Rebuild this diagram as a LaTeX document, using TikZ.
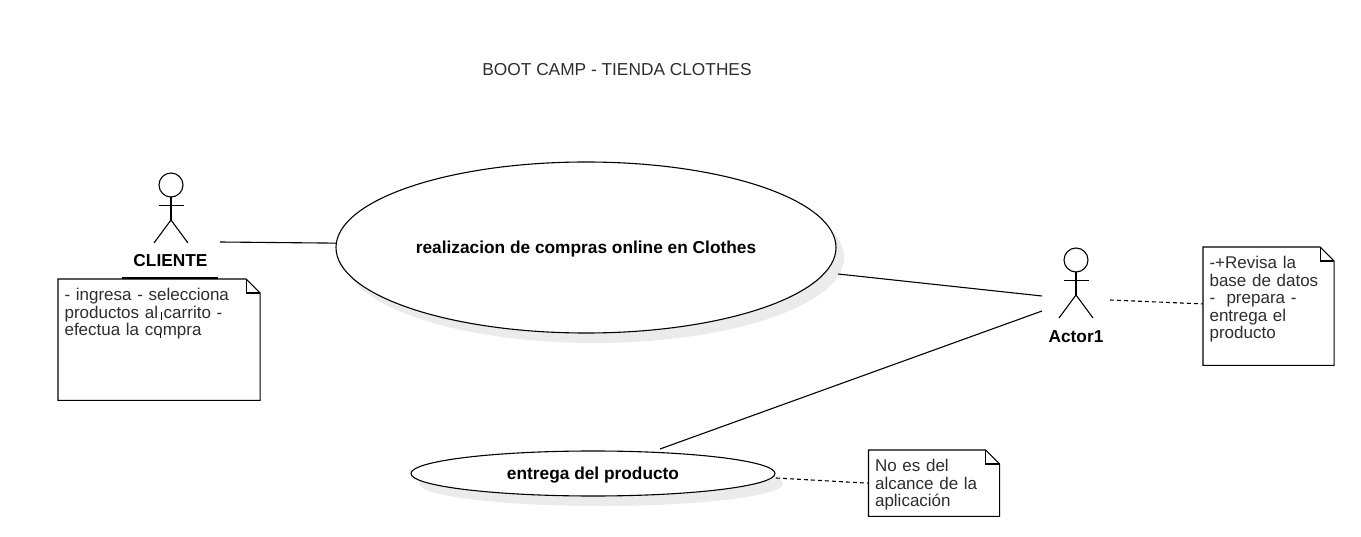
\documentclass[tikz,border=0pt]{standalone}
\usepackage{fontspec}
\setmainfont{Liberation Sans}
\usetikzlibrary{positioning,shapes.geometric,shadows}
\definecolor{notetext}{RGB}{45,45,45}
\definecolor{shadowgray}{RGB}{235,235,235}

\begin{document}
\begin{tikzpicture}[
    x=1pt, y=-1pt,
    line width=1.1pt,
    usecase/.style={ellipse, draw=black, fill=white, inner sep=0pt, text height=16pt, text depth=3.5pt,
        font=\fontsize{17.3}{19}\selectfont\bfseries,
        drop shadow={shadow xshift=8pt, shadow yshift=-10pt, opacity=1, fill=shadowgray}},
    notebox/.style n args={2}{rectangle, anchor=north west, align=left, inner xsep=6pt, inner ysep=9pt,
        text width=#1, text depth=#2, font=\fontsize{17}{17.5}\selectfont, text=notetext},
    actorname/.style={font=\fontsize{17.3}{19}\selectfont\bfseries},
    assoc/.style={line width=1.1pt},
    notelink/.style={line width=1.1pt, dash pattern=on 4pt off 3pt}
]
\useasboundingbox (0,0) rectangle (1361,537);

% Title
\node[font=\fontsize{17.3}{19}\selectfont, text=notetext] (title) at (617,70) {BOOT CAMP - TIENDA CLOTHES};

% Use cases
\node[usecase, minimum width=500pt, minimum height=171pt] (compras) at (586,247.5) {realizacion de compras online en Clothes};
\node[usecase, minimum width=364pt, minimum height=45pt] (entrega) at (593,473.5) {entrega del producto};

% Actors
\foreach \x/\y in {171/185,1076/260} {
    \begin{scope}[shift={(\x,\y)}]
        \draw (0,0) circle[radius=12pt];
        \draw (0,12) -- (0,35);
        \draw (-12.5,20.5) -- (12.5,20.5);
        \draw (-17,58) -- (0,35) -- (17,58);
    \end{scope}
}
\node[actorname] (cliente) at (170.5,261) {CLIENTE};
\node[actorname] (actor1) at (1076,337) {Actor1};
\draw[line width=2pt] (122,278) -- (218,278);

% Notes
\node[notebox={189pt}{90pt}] (carrito) at (58,279) {- ingresa - selecciona\\productos al carrito -\\efectua la compra};
\node[notebox={118pt}{87pt}] (revisa) at (1203,247) {-+Revisa la\\base de datos\\-\ \ prepara -\\entrega el\\producto};
\node[notebox={118pt}{35pt}] (alcance) at (868.5,450) {No es del\\alcance de la\\aplicación};
\foreach \n in {carrito,revisa,alcance} {
    \draw (\n.north west) -- ([xshift=-14pt]\n.north east) -- ([yshift=-14pt]\n.north east) |- (\n.south west) -- cycle;
    \draw ([xshift=-14pt]\n.north east) |- ([yshift=-14pt]\n.north east);
}
\draw[line width=0.7pt] (161.5,312) -- (161.5,320);
\draw[line width=0.7pt] (160.5,333) -- (160.5,338);

% Connections
\coordinate (clienteend) at (220,242);
\coordinate (actortop) at (1042,296);
\coordinate (actorlow) at (1042,311);
\coordinate (actornote) at (1110,300);
\coordinate (comprasend) at (838,274);
\coordinate (entregaend) at (660,449);
\coordinate (entreganote) at (776,478);

\draw[assoc] (clienteend) -- (compras.179);
\draw[assoc] (comprasend) -- (actortop);
\draw[assoc] (actorlow) -- (entregaend);
\draw[notelink] (actornote) -- (revisa.178);
\draw[notelink] (entreganote) -- (alcance.west);

\end{tikzpicture}
\end{document}
